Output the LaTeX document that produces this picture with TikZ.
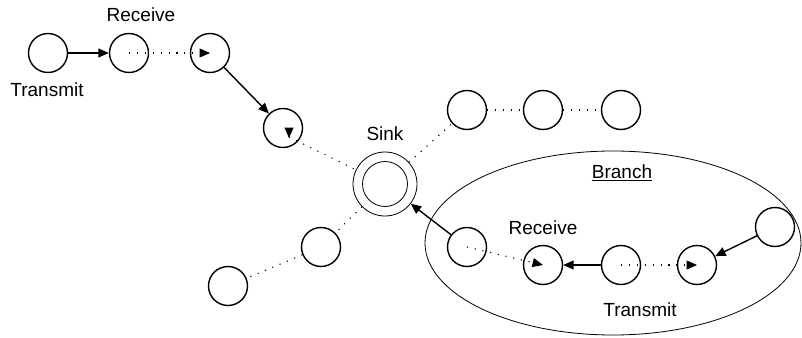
\documentclass[tikz,border=0pt]{standalone}
\usepackage{fontspec}
\setmainfont{Liberation Sans}
\usetikzlibrary{arrows.meta}

\begin{document}
\begin{tikzpicture}[x=1pt,y=-1pt,font=\fontsize{19}{23}\selectfont,
   mote/.style={circle,draw,line width=1.4pt,minimum size=39pt,inner sep=0pt},
   tx/.style={-{Triangle[length=10.5pt,width=9pt]},line width=1.4pt},
   rx/.style={-{Triangle[length=10.5pt,width=9pt]},line width=1.1pt,dash pattern=on 1.1pt off 6.8pt},
   hop/.style={line width=1.1pt,dash pattern=on 1.1pt off 6.8pt}]
   \useasboundingbox (0,0) rectangle (802,337);
   \draw[line width=0.8pt] (613,243) ellipse[x radius=188pt,y radius=92pt];
   \node[mote] (a) at (48,53) {};
   \node[mote] (b) at (129,53) {};
   \node[mote] (c) at (210,53) {};
   \node[mote] (d) at (283,128) {};
   \node[circle,draw,line width=0.8pt,minimum size=64pt,inner sep=0pt] (sink) at (385,184) {};
   \node[circle,draw,line width=0.8pt,minimum size=45pt,inner sep=0pt] (core) at (sink) {};
   \node[mote] (e) at (467,110) {};
   \node[mote] (f) at (543,110) {};
   \node[mote] (g) at (621,110) {};
   \node[mote] (h) at (321,247) {};
   \node[mote] (i) at (228,286) {};
   \node[mote] (j) at (467,247) {};
   \node[mote] (k) at (543,265) {};
   \node[mote] (l) at (621,265) {};
   \node[mote] (m) at (697,265) {};
   \node[mote] (n) at (775,227) {};
   \node (rxtop) at (141,15) {Receive};
   \node (txtop) at (47,90) {Transmit};
   \node (sinklabel) at (385,134) {Sink};
   \node (branch) at (622,173) {\underline{Branch}};
   \node (rxbranch) at (543,228) {Receive};
   \node (txbranch) at (640,310) {Transmit};
   \draw[tx] (a) -- (b);
   \draw[rx] (b.center) -- (c.center);
   \draw[rx,dash pattern=on 0pt off 40pt] ([xshift=6pt]d.north) -- ([xshift=6pt,yshift=-10pt]d.center);
   \draw[tx] (c) -- (d);
   \draw[hop] ([xshift=6pt,yshift=-9pt]d.center) -- (sink);
   \draw[hop] (sink) -- (e);
   \draw[hop] (e) -- (f);
   \draw[hop] (f) -- (g);
   \draw[hop] (sink) -- (h);
   \draw[hop] (h) -- (i);
   \draw[tx] (j) -- (sink);
   \draw[rx] (j.center) -- (k.center);
   \draw[tx] (l) -- (k);
   \draw[rx] (l.center) -- (m.center);
   \draw[tx] (n) -- (m);
\end{tikzpicture}
\end{document}
